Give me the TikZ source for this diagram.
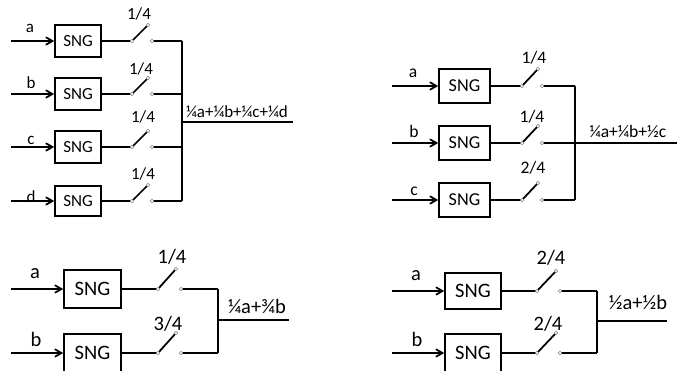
\documentclass[tikz,border=0pt]{standalone}
\usepackage{fontspec}
\setmainfont{Carlito}
\usetikzlibrary{arrows}
\tikzset{sng/.style = {draw, rectangle, inner sep = 0, line width=1.6pt}}
\tikzset{term/.style = {draw=gray, fill=white, circle, inner sep = 0, minimum size = 3pt, line width=0.4pt}}
\tikzset{lbl/.style = {inner sep = 0, font=\lblfont}}
\newcommand{\sngbranch}[9]{
    \coordinate (#1 in) at (\xin, #2);
    \node [sng, font=\sngfont, minimum width=(\xboxr-\xboxl)*0.85pt, minimum height=#3*0.85pt] (#1 box) at ({(\xboxl+\xboxr)/2}, #2) {SNG};
    \coordinate (#1 l) at (\xswl, #2);
    \coordinate (#1 r) at (\xswr, #2);
    \coordinate (#1 t) at (\xswt, #2-\swrise);
    \coordinate (#1 bus) at (\xbus, #2);
    \draw [->] (#1 in) -- (#1 box.west);
    \draw (#1 box.east) -- (#1 l);
    \draw (#1 l) -- (#1 t);
    \draw (#1 r) -- (#1 bus);
    \node [term] at (#1 l) {};
    \node [term] at (#1 r) {};
    \node [term] at (#1 t) {};
    \node [lbl] (#1 frac) at (#5, #6) {#4};
    \node [lbl] (#1 name) at (#8, #9) {#7};
}

\begin{document}
\begin{tikzpicture}[x=0.03cm, y=-0.03cm, line width=1.5pt, >=angle 60]
    \clip (0, 0) rectangle (681, 371);

    % four inputs
    \begin{scope}
      \def\xin{11} \def\xboxl{55} \def\xboxr{101} \def\xswl{132} \def\xswr{152}
      \def\xswt{148} \def\swrise{16} \def\xbus{182}
      \def\lblfont{\fontsize{14.5}{14.5}\selectfont}
      \def\sngfont{\fontsize{14.5}{14.5}\selectfont}
      \sngbranch{pa}{41}{32}{1/4}{139}{14}{a}{30}{28}
      \sngbranch{pb}{94}{32}{1/4}{141}{69}{b}{31}{83}
      \sngbranch{pc}{147}{32}{1/4}{143}{117}{c}{31}{140}
      \sngbranch{pd}{201}{31}{1/4}{143}{174}{d}{31}{197}
      \draw (pa bus) -- (pd bus);
      \coordinate (ptap) at (182, 122);
      \coordinate (pout) at (293, 122);
      \draw (ptap) -- (pout);
      \node [lbl] (psum) at (237, 112) {¼a+¼b+¼c+¼d};
    \end{scope}

    % three inputs
    \begin{scope}
      \def\xin{392} \def\xboxl{439} \def\xboxr{490} \def\xswl{522} \def\xswr{542}
      \def\xswt{538} \def\swrise{17} \def\xbus{575}
      \def\lblfont{\fontsize{15}{15}\selectfont}
      \def\sngfont{\fontsize{15.5}{15.5}\selectfont}
      \sngbranch{qa}{86}{34}{1/4}{534}{58}{a}{413}{73}
      \sngbranch{qb}{143}{34}{1/4}{532}{117}{b}{414}{131}
      \sngbranch{qc}{200}{34}{2/4}{533}{168}{c}{414}{191}
      \draw (qa bus) -- (qc bus);
      \coordinate (qout) at (677, 143);
      \draw (qb bus) -- (qout);
      \node [lbl] (qsum) at (628, 131) {¼a+¼b+½c};
    \end{scope}

    % two inputs, 1/4 and 3/4
    \begin{scope}
      \def\xin{11} \def\xboxl{64} \def\xboxr{121} \def\xswl{158} \def\xswr{181}
      \def\xswt{176} \def\swrise{20} \def\xbus{218}
      \def\lblfont{\fontsize{17.5}{17.5}\selectfont}
      \def\sngfont{\fontsize{17.5}{17.5}\selectfont}
      \sngbranch{ra}{289}{38}{1/4}{172}{257}{a}{35}{274}
      \sngbranch{rb}{353}{38}{3/4}{168}{324}{b}{36}{339}
      \draw (ra bus) -- (rb bus);
      \coordinate (rtap) at (218, 320);
      \coordinate (rout) at (289, 320);
      \draw (rtap) -- (rout);
      \node [lbl] (rsum) at (257, 306) {¼a+¾b};
    \end{scope}

    % two inputs, 2/4 each
    \begin{scope}
      \def\xin{392} \def\xboxl{445} \def\xboxr{501} \def\xswl{537} \def\xswr{560}
      \def\xswt{556} \def\swrise{20} \def\xbus{597}
      \def\lblfont{\fontsize{17.5}{17.5}\selectfont}
      \def\sngfont{\fontsize{17.5}{17.5}\selectfont}
      \sngbranch{sa}{291}{37}{2/4}{551}{258}{a}{416}{276}
      \sngbranch{sb}{353}{38}{2/4}{548}{324}{b}{417}{339}
      \draw (sa bus) -- (sb bus);
      \coordinate (stap) at (597, 321);
      \coordinate (sout) at (667, 321);
      \draw (stap) -- (sout);
      \node [lbl] (ssum) at (638, 302) {½a+½b};
    \end{scope}
  \end{tikzpicture}
\end{document}
